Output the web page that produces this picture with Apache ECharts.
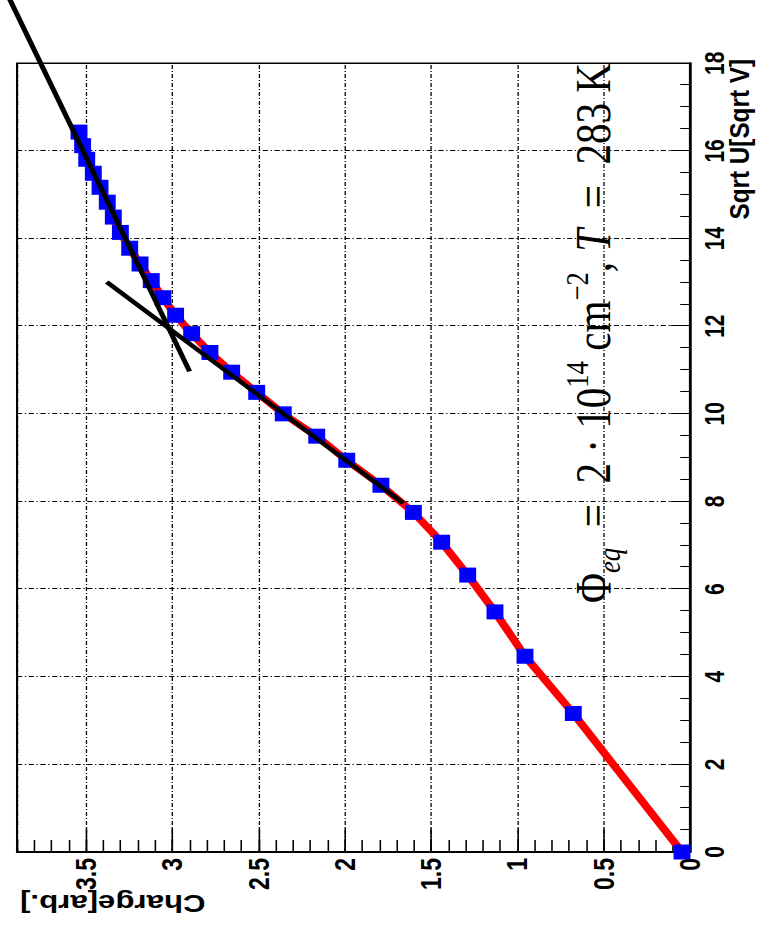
<!DOCTYPE html>
<html><head><meta charset="utf-8">
<script src="https://cdn.jsdelivr.net/npm/echarts@6/dist/echarts.min.js"></script>
<style>
html,body{margin:0;padding:0;background:#fff;overflow:hidden;width:762px;height:941px;}
#wrap{position:absolute;left:0;top:0;width:941px;height:586px;transform-origin:0 0;transform:translate(0px,941px) scale(1.3003,1) rotate(-90deg);}
#chart{width:941px;height:586px;}
</style></head><body>
<div id="wrap"><div id="chart"></div></div>
<script>
// Data
const sqrtU = [0, 3.16, 4.47, 5.48, 6.32, 7.07, 7.75, 8.37, 8.94, 9.49, 10.0, 10.49, 10.95, 11.40, 11.83, 12.25, 12.65, 13.04, 13.42, 13.78, 14.14, 14.49, 14.83, 15.17, 15.49, 15.81, 16.12, 16.43];
const charge = [0.046, 0.676, 0.956, 1.130, 1.288, 1.439, 1.603, 1.791, 1.989, 2.163, 2.357, 2.511, 2.656, 2.782, 2.888, 2.981, 3.055, 3.122, 3.187, 3.247, 3.301, 3.342, 3.377, 3.419, 3.458, 3.496, 3.520, 3.541];
const fitLowX = [7.96, 13.01];
const fitLowY = [1.661, 3.380];
const fitHighX = [10.97, 19.8];
const fitHighY = [2.900, 3.984];
const xRange = [0, 18];
const yRange = [0, 3.9];
const xTitle = 'Sqrt U[Sqrt V]';
const yTitle = 'Charge[arb.]';

const pts = sqrtU.map((x, i) => [x, charge[i]]);
const lowFit = fitLowX.map((x, i) => [x, fitLowY[i]]);
const highFit = fitHighX.map((x, i) => [x, fitHighY[i]]);

// layout of the (unrotated) frame
const W = 941, H = 586;
const G = {left: 89, right: 63.3, top: 13.1, bottom: 55.4};
const pxPerX = (W - G.left - G.right) / (xRange[1] - xRange[0]);
const pxPerY = (H - G.top - G.bottom) / (yRange[1] - yRange[0]);
// a second, invisible coordinate system with the same scale that reaches the page edge,
// so the upper fit line can run past the frame as in the reference
const xMaxOuter = xRange[1] + G.right / pxPerX;
const yMaxOuter = yRange[1] + G.top / pxPerY;

const labelFont = 'Liberation Sans';
const gridDash = [4, 2, 1, 2];
const tickStyle = {color: '#000', width: 1.2};

const chart = echarts.init(document.getElementById('chart'), null, {renderer: 'svg', width: W, height: H});
chart.setOption({
  animation: false,
  backgroundColor: '#fff',
  grid: [
    {left: G.left, right: G.right, top: G.top, bottom: G.bottom, show: true, borderColor: '#000', borderWidth: 1.6, backgroundColor: 'transparent'},
    {left: G.left, right: 0, top: 0, bottom: G.bottom, show: false}
  ],
  xAxis: [{
    type: 'value', min: xRange[0], max: xRange[1], interval: 2, gridIndex: 0,
    axisLine: {show: true, onZero: false, lineStyle: {color: '#000', width: 2}},
    axisTick: {show: true, inside: true, length: 15, lineStyle: tickStyle},
    minorTick: {show: true, splitNumber: 4, length: 7.5, lineStyle: tickStyle},
    axisLabel: {color: '#000', fontFamily: labelFont, fontWeight: 'bold', fontSize: 21, margin: 8},
    splitLine: {show: true, lineStyle: {color: '#000', width: 1, type: gridDash}}
  }, {
    type: 'value', min: xRange[0], max: xMaxOuter, gridIndex: 1, show: false
  }],
  yAxis: [{
    type: 'value', min: yRange[0], max: yRange[1], interval: 0.5, gridIndex: 0,
    axisLine: {show: true, onZero: false, lineStyle: {color: '#000', width: 2}},
    axisTick: {show: true, inside: true, length: 24, lineStyle: tickStyle},
    axisLabel: {color: '#000', fontFamily: labelFont, fontWeight: 'bold', fontSize: 23, margin: 6, showMaxLabel: false},
    splitLine: {show: true, lineStyle: {color: '#000', width: 1, type: gridDash}}
  }, {
    type: 'value', min: yRange[0], max: yRange[1], interval: 0.1, position: 'left', gridIndex: 0,
    axisLine: {show: false},
    axisTick: {show: true, inside: true, length: 12, lineStyle: tickStyle},
    axisLabel: {show: false},
    splitLine: {show: false}
  }, {
    type: 'value', min: yRange[0], max: yMaxOuter, gridIndex: 1, show: false
  }],
  series: [{
    type: 'line', data: pts, xAxisIndex: 0, yAxisIndex: 0, showSymbol: false, z: 2,
    lineStyle: {color: '#ff0000', width: 6.5}
  }, {
    type: 'scatter', data: pts, xAxisIndex: 0, yAxisIndex: 0, symbol: 'rect', symbolSize: [15, 13], z: 3, clip: false,
    itemStyle: {color: '#0000ff', opacity: 1}
  }, {
    type: 'line', data: lowFit, xAxisIndex: 0, yAxisIndex: 0, showSymbol: false, z: 4, clip: false,
    lineStyle: {color: '#000', width: 4}
  }, {
    type: 'line', data: highFit, xAxisIndex: 1, yAxisIndex: 2, showSymbol: false, z: 4,
    lineStyle: {color: '#000', width: 4}
  }],
  graphic: [{
    type: 'text', x: 38, y: 15.4, rotation: Math.PI / 2,
    style: {text: yTitle, font: 'bold 24px "Liberation Sans"', fill: '#000', align: 'right', textAlign: 'right', verticalAlign: 'middle', textVerticalAlign: 'middle'}
  }, {
    type: 'text', x: 882, y: 569, scaleX: 1.13,
    style: {text: xTitle, font: 'bold 21.5px "Liberation Sans"', fill: '#000', align: 'right', textAlign: 'right', verticalAlign: 'middle', textVerticalAlign: 'middle'}
  }, {
    type: 'text', x: 338, y: 456, scaleX: 1.067,
    style: {
      text: '{n|Φ}{sub|eq}{n|  =  2 · 10}{sup|14}{n| cm}{sup|−2}{n|, }{it|T}{n|  =  283 K}',
      align: 'left', textAlign: 'left', verticalAlign: 'middle', textVerticalAlign: 'middle', fill: '#000',
      rich: {
        n: {fontFamily: 'Liberation Serif', fontSize: 38.5, lineHeight: 50, color: '#000'},
        it: {fontFamily: 'Liberation Serif', fontStyle: 'italic', fontSize: 38.5, lineHeight: 50, color: '#000'},
        sub: {fontFamily: 'Liberation Serif', fontStyle: 'italic', fontSize: 25, lineHeight: 50, verticalAlign: 'bottom', color: '#000'},
        sup: {fontFamily: 'Liberation Serif', fontSize: 25, lineHeight: 50, verticalAlign: 'top', color: '#000'}
      }
    }
  }]
});
</script>
</body></html>
